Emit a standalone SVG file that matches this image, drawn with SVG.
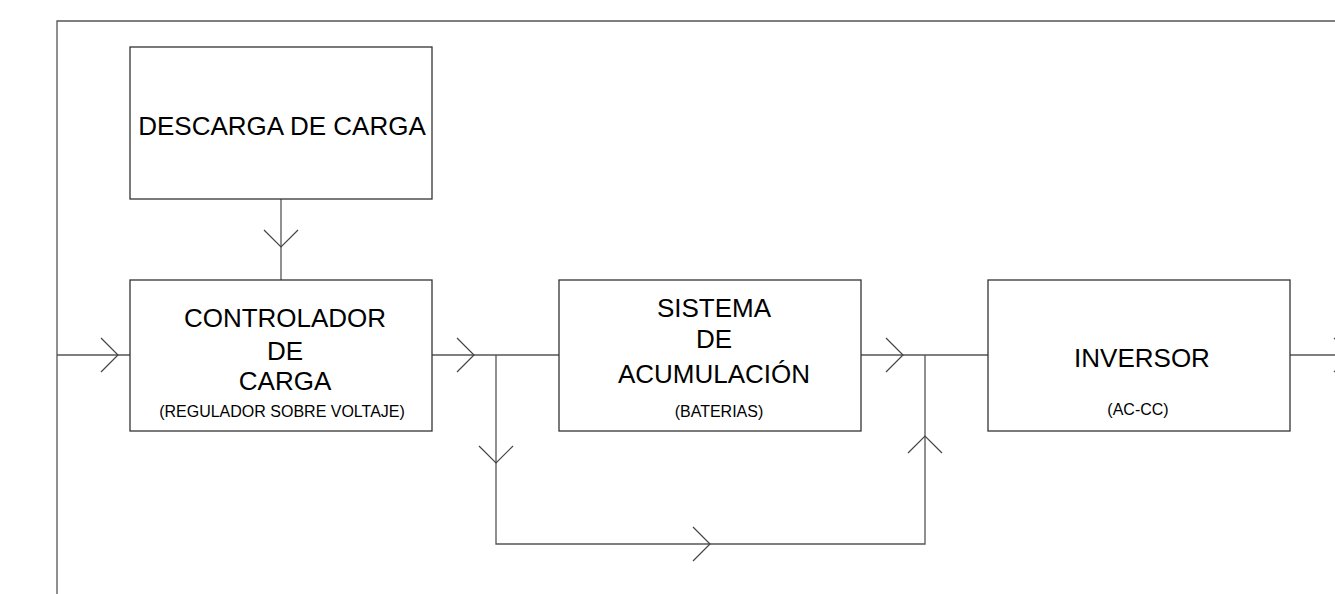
<svg xmlns="http://www.w3.org/2000/svg" width="1335" height="594" viewBox="0 0 1335 594">
<style>
.box{fill:#fff;stroke:#333;stroke-width:1.3}
.ln{fill:none;stroke:#555;stroke-width:1.3}
.ah{fill:none;stroke:#444;stroke-width:1.2}
.t{font-family:"Liberation Sans",Arial,sans-serif;fill:#000;text-anchor:middle}
.big{font-size:26px}
.sm{font-size:16px}
</style>
<rect width="1335" height="594" fill="#fff"/>
<g id="connectors">
<path class="ln" d="M57,594 V21 H1335"/>
<path class="ln" d="M57,355 H130"/>
<path class="ah" d="M101,338 L118,355 L101,372"/>
<path class="ln" d="M281,199 V280"/>
<path class="ah" d="M264,230 L281,247 L298,230"/>
<path class="ln" d="M432,355 H559"/>
<path class="ah" d="M457,338 L474,355 L457,372"/>
<path class="ln" d="M496,355 V544 H925 V355"/>
<path class="ah" d="M479,446 L496,463 L513,446"/>
<path class="ah" d="M693,527 L710,544 L693,561"/>
<path class="ah" d="M908,453 L925,436 L942,453"/>
<path class="ln" d="M861,355 H988"/>
<path class="ah" d="M886,338 L903,355 L886,372"/>
<path class="ln" d="M1290,355 H1335"/>
<path class="ah" d="M1334,338 L1351,355 L1334,372"/>
</g>
<g id="descarga">
<rect class="box" x="130" y="47" width="302" height="152"/>
<text class="t big" x="282" y="135">DESCARGA DE CARGA</text>
</g>
<g id="controlador">
<rect class="box" x="130" y="280" width="302" height="151"/>
<text class="t big" x="285" y="327">CONTROLADOR</text>
<text class="t big" x="285" y="360">DE</text>
<text class="t big" x="285" y="390">CARGA</text>
<text class="t sm" x="282" y="417">(REGULADOR SOBRE VOLTAJE)</text>
</g>
<g id="sistema">
<rect class="box" x="559" y="280" width="302" height="151"/>
<text class="t big" x="714" y="317">SISTEMA</text>
<text class="t big" x="714" y="348">DE</text>
<text class="t big" x="714" y="383">ACUMULACIÓN</text>
<text class="t sm" x="719" y="417">(BATERIAS)</text>
</g>
<g id="inversor">
<rect class="box" x="988" y="280" width="302" height="151"/>
<text class="t big" x="1142" y="367">INVERSOR</text>
<text class="t sm" x="1138" y="415">(AC-CC)</text>
</g>
</svg>
